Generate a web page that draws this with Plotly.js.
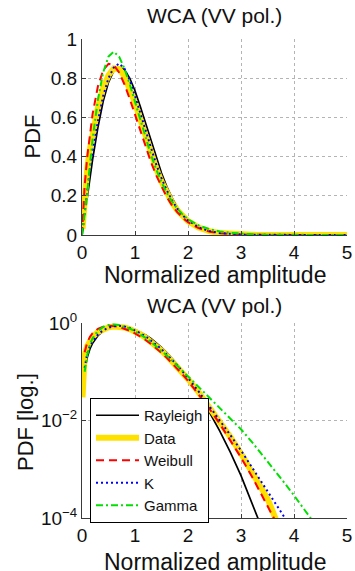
<!DOCTYPE html>
<html>
<head>
<meta charset="utf-8">
<script src="https://cdn.plot.ly/plotly-3.0.1.min.js"></script>
<style>html,body{margin:0;padding:0;background:#fff;}#chart{width:355px;height:571px;}</style>
</head>
<body>
<div id="chart"></div>
<script>
// Shared amplitude grid for model curves
const X = [0, 0.05, 0.1, 0.15, 0.2, 0.3, 0.4, 0.5, 0.6, 0.7, 0.8, 0.9, 1.0, 1.1, 1.2, 1.3, 1.4, 1.5, 1.6, 1.7, 1.8, 1.9, 2.0, 2.2, 2.4, 2.6, 2.8, 3.0, 3.2, 3.4, 3.6, 3.8, 4.0, 4.2, 4.4, 4.6, 4.8, 5.0];

const rayleigh = [0, 0.0998, 0.198, 0.2933, 0.3843, 0.5483, 0.6817, 0.7788, 0.8372, 0.8577, 0.8437, 0.8008, 0.7358, 0.6561, 0.5686, 0.4797, 0.3945, 0.3162, 0.2474, 0.189, 0.141, 0.1028, 0.0733, 0.0348, 0.0151, 0.00603, 0.00221, 0.00074, 0.000229, 0.0000649, 0.0000169, 0.0000041, 0.0000009, 0.00000018, 0.000000034, 0.000000006, 0.00000000095, 0.00000000014];

const weibull = [0, 0.2513, 0.4014, 0.5205, 0.6176, 0.7588, 0.8407, 0.8736, 0.8668, 0.829, 0.7692, 0.695, 0.6133, 0.5297, 0.4486, 0.3728, 0.3046, 0.2447, 0.1934, 0.1506, 0.1156, 0.0874, 0.0652, 0.0349, 0.0177, 0.00858, 0.00395, 0.00174, 0.000731, 0.000296, 0.000114, 0.0000423, 0.0000151, 0.0000052, 0.0000017, 0.0000005, 0.00000015, 0.00000004];

const kDist = [0, 0.12, 0.24, 0.335, 0.42, 0.58, 0.71, 0.80, 0.855, 0.875, 0.85, 0.79, 0.71, 0.62, 0.53, 0.44, 0.36, 0.29, 0.228, 0.176, 0.134, 0.1, 0.075, 0.0395, 0.0202, 0.0101, 0.005, 0.00243, 0.00116, 0.00055, 0.00026, 0.000122, 0.000057, 0.000026, 0.000012, 0.0000055, 0.0000025, 0.0000011];

const gamma = [0, 0.1, 0.22, 0.36, 0.49, 0.69, 0.83, 0.91, 0.935, 0.91, 0.85, 0.77, 0.68, 0.585, 0.495, 0.41, 0.335, 0.27, 0.215, 0.17, 0.134, 0.104, 0.08, 0.049, 0.03, 0.0184, 0.0112, 0.0066, 0.0037, 0.002, 0.00106, 0.00056, 0.00029, 0.000148, 0.000074, 0.000037, 0.000019, 0.0000095];

// Measured data (histogram estimate)
const dataX = [0.01, 0.05, 0.1, 0.15, 0.2, 0.3, 0.4, 0.5, 0.6, 0.7, 0.8, 0.9, 1.0, 1.1, 1.2, 1.3, 1.4, 1.5, 1.6, 1.7, 1.8, 1.9, 2.0, 2.2, 2.4, 2.6, 2.8, 3.0, 3.2, 3.3, 3.4, 3.5, 3.6, 3.7, 3.8, 4.0, 4.2, 4.4, 4.6, 4.8, 5.0];
const dataPdf = [0.03, 0.22, 0.34, 0.44, 0.52, 0.65, 0.75, 0.815, 0.85, 0.848, 0.81, 0.75, 0.675, 0.59, 0.5, 0.415, 0.34, 0.272, 0.213, 0.165, 0.126, 0.095, 0.071, 0.038, 0.0195, 0.0096, 0.0046, 0.0021, 0.00092, 0.00062, 0.00036, 0.00025, 0.000135, 0.000072, 0.00004, 0.00001, 0, 0, 0, 0, 0];

const seriesNames = ['Rayleigh', 'Data', 'Weibull', 'K', 'Gamma'];
const titleText = 'WCA (VV pol.)';
const xTitle = 'Normalized amplitude';
const yTitleLin = 'PDF';
const yTitleLog = 'PDF [log.]';
const logTickVals = [1, 0.01, 0.0001];
const logTickText = ['10<sup>0</sup>', '10<sup>\u22122</sup>', '10<sup>\u22124</sup>'];

const FONT = 'Liberation Sans, Arial, Helvetica, sans-serif';

// keep only positive values for the log plot (log of zero is undefined)
function positive(xs, ys) {
  const ox = [], oy = [];
  for (let i = 0; i < xs.length; i++) if (ys[i] > 0) { ox.push(xs[i]); oy.push(ys[i]); }
  return {x: ox, y: oy};
}

const series = [
  {x: X, y: rayleigh, line: {color: '#000000', width: 1.7}},
  {x: dataX, y: dataPdf, line: {color: '#ffe100', width: 6}},
  {x: X, y: weibull, line: {color: '#ff0000', width: 2, dash: '8px,5px'}},
  {x: X, y: kDist, line: {color: '#0000ff', width: 2, dash: '2px,3px'}},
  {x: X, y: gamma, line: {color: '#00e000', width: 2, dash: '7px,3px,2px,3px'}}
];

const traces = [];
series.forEach((s, i) => {
  traces.push({x: s.x, y: s.y, name: seriesNames[i], mode: 'lines', line: s.line,
    xaxis: 'x', yaxis: 'y', showlegend: false, hoverinfo: 'skip'});
});
series.forEach((s, i) => {
  const p = positive(s.x, s.y);
  traces.push({x: p.x, y: p.y, name: seriesNames[i], mode: 'lines', line: s.line,
    xaxis: 'x2', yaxis: 'y2', showlegend: true, hoverinfo: 'skip'});
});

const axBase = {
  showgrid: true, gridcolor: '#b4b4b4', griddash: 'dot', gridwidth: 1,
  showline: true, linecolor: '#3a3a3a', linewidth: 1,
  ticks: 'inside', ticklen: 4, tickcolor: '#3a3a3a', tickwidth: 1,
  zeroline: false, tickfont: {family: FONT, size: 19, color: '#111'}
};

const yTop = 1, yTopBot = 283 / 479, yBotTop = 195 / 479;

const layout = {
  width: 355, height: 571,
  margin: {l: 82, r: 8, t: 39, b: 53},
  paper_bgcolor: '#ffffff', plot_bgcolor: '#ffffff',
  font: {family: FONT, color: '#111'},
  xaxis: Object.assign({}, axBase, {domain: [0, 1], anchor: 'y', range: [0, 5], tick0: 0, dtick: 1}),
  yaxis: Object.assign({}, axBase, {domain: [yTopBot, yTop], anchor: 'x', range: [0, 1], tick0: 0, dtick: 0.2}),
  xaxis2: Object.assign({}, axBase, {domain: [0, 1], anchor: 'y2', range: [0, 5], tick0: 0, dtick: 1}),
  yaxis2: Object.assign({}, axBase, {domain: [0, yBotTop], anchor: 'x2', type: 'log', range: [-4, 0],
    tickmode: 'array', tickvals: logTickVals, ticktext: logTickText}),
  showlegend: true,
  legend: {
    x: 8 / 265, y: 120 / 479, xanchor: 'left', yanchor: 'top',
    bgcolor: '#ffffff', bordercolor: '#000000', borderwidth: 1, itemwidth: 43,
    font: {family: FONT, size: 15, color: '#111'}, tracegroupgap: 0
  },
  annotations: [
    {text: titleText, xref: 'paper', yref: 'paper', x: 0.5, y: (518 - 16) / 479, xanchor: 'center', yanchor: 'middle', showarrow: false, font: {family: FONT, size: 21, color: '#111'}},
    {text: titleText, xref: 'paper', yref: 'paper', x: 0.5, y: (518 - 305) / 479, xanchor: 'center', yanchor: 'middle', showarrow: false, font: {family: FONT, size: 21, color: '#111'}},
    {text: xTitle, xref: 'paper', yref: 'paper', x: 0.5, y: (518 - 275) / 479, xanchor: 'center', yanchor: 'middle', showarrow: false, font: {family: FONT, size: 23, color: '#111'}},
    {text: xTitle, xref: 'paper', yref: 'paper', x: 0.5, y: (518 - 562) / 479, xanchor: 'center', yanchor: 'middle', showarrow: false, font: {family: FONT, size: 23, color: '#111'}},
    {text: yTitleLin, xref: 'paper', yref: 'paper', x: (31.5 - 82) / 265, y: (518 - 137) / 479, xanchor: 'center', yanchor: 'middle', textangle: -90, showarrow: false, font: {family: FONT, size: 22, color: '#111'}},
    {text: yTitleLog, xref: 'paper', yref: 'paper', x: (25 - 82) / 265, y: (518 - 422) / 479, xanchor: 'center', yanchor: 'middle', textangle: -90, showarrow: false, font: {family: FONT, size: 22, color: '#111'}}
  ]
};

Plotly.newPlot('chart', traces, layout, {staticPlot: true, displayModeBar: false});
</script>
</body>
</html>
